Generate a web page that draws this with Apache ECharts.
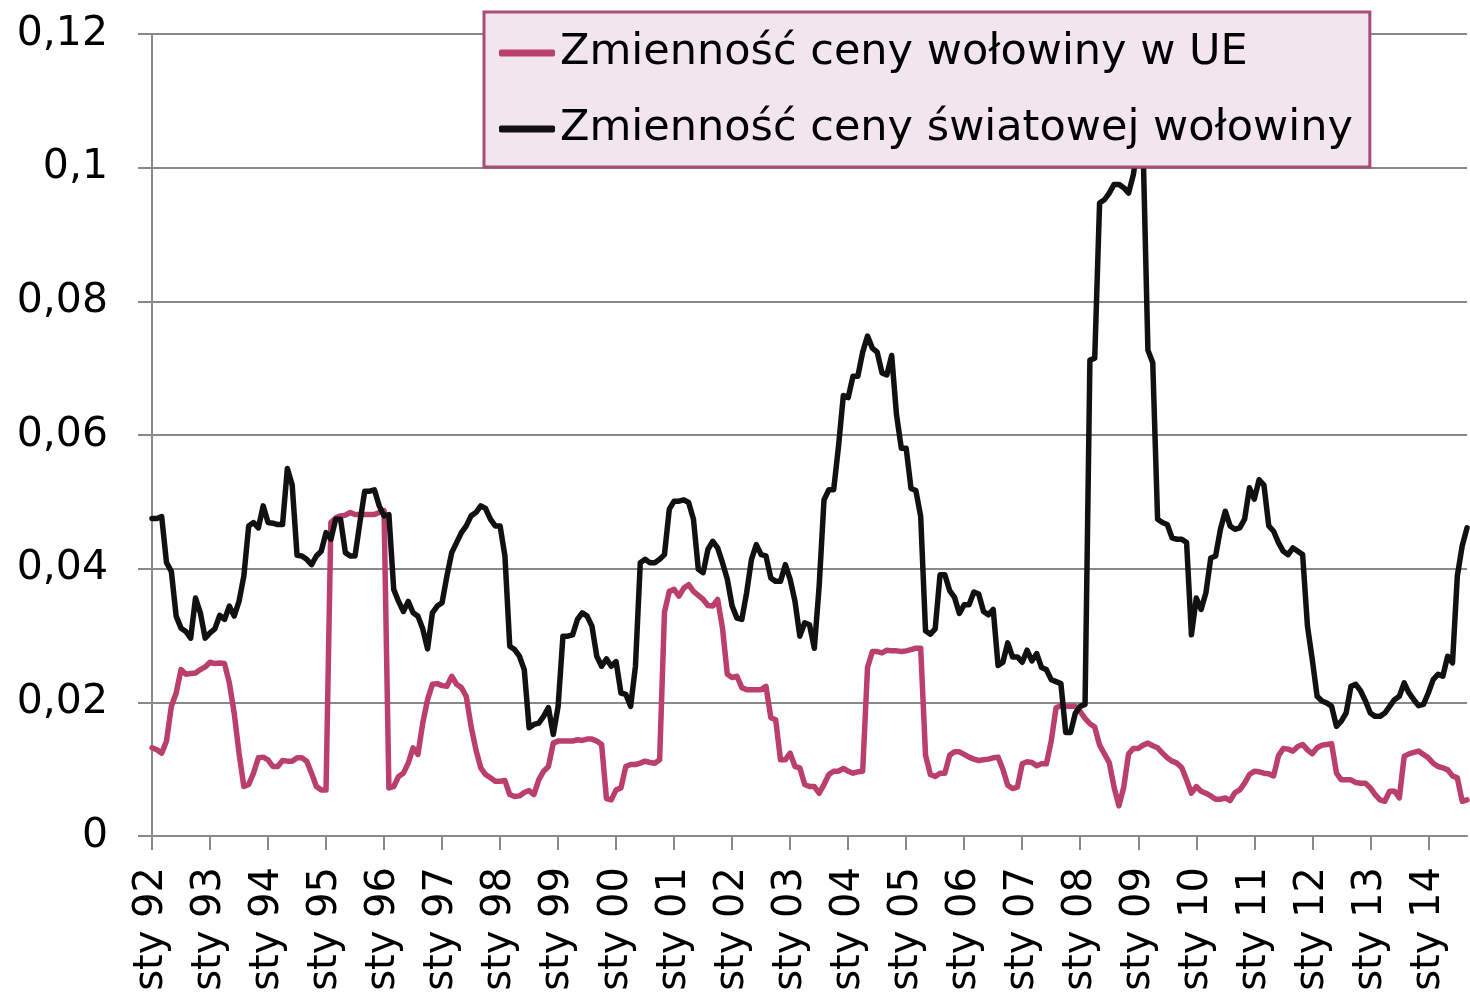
<!DOCTYPE html>
<html><head><meta charset="utf-8">
<script src="https://cdn.jsdelivr.net/npm/echarts@6/dist/echarts.min.js"></script>
<style>html,body{margin:0;padding:0;background:#fff}#c{width:1470px;height:994px}</style>
</head><body><div id="c"></div>
<script>
const monthNames = ['sty','lut','mar','kwi','maj','cze','lip','sie','wrz','paź','lis','gru'];
const years = ['92','93','94','95','96','97','98','99','00','01','02','03','04','05','06','07','08','09','10','11','12','13','14'];
const seriesNames = ['Zmienność ceny wołowiny w UE','Zmienność ceny światowej wołowiny'];

const euVol = [
0.0132,0.0129,0.0124,0.0142,0.0194,0.0214,0.0249,0.0242,0.0243,0.0244,
0.0249,0.0253,0.026,0.0258,0.0259,0.0258,0.0229,0.0184,0.0124,0.0074,
0.0077,0.0094,0.0117,0.0118,0.0114,0.0104,0.0104,0.0113,0.0112,0.0112,
0.0117,0.0117,0.0112,0.0094,0.0074,0.0069,0.0069,0.0469,0.0476,0.0479,
0.048,0.0484,0.0481,0.0481,0.0481,0.0481,0.0481,0.0484,0.0487,0.0072,
0.0074,0.0089,0.0094,0.0109,0.0132,0.0122,0.0169,0.0204,0.0227,0.0228,
0.0225,0.0224,0.0239,0.0227,0.0222,0.0209,0.0164,0.0129,0.0102,0.0092,
0.0087,0.0082,0.0082,0.0083,0.0062,0.0059,0.006,0.0065,0.0068,0.0062,
0.0084,0.0097,0.0104,0.0139,0.0142,0.0142,0.0142,0.0142,0.0144,0.0143,
0.0145,0.0145,0.0142,0.0137,0.0056,0.0054,0.0069,0.0072,0.0104,0.0107,
0.0107,0.0109,0.0112,0.011,0.0109,0.0114,0.0335,0.0366,0.0369,0.0359,
0.0371,0.0376,0.0366,0.036,0.0354,0.0345,0.0344,0.0354,0.0311,0.0242,
0.0237,0.0239,0.0222,0.0219,0.0219,0.0219,0.0219,0.0224,0.0177,0.0174,
0.0114,0.0114,0.0124,0.0104,0.0102,0.0077,0.0074,0.0074,0.0064,0.0077,
0.0092,0.0097,0.0097,0.0101,0.0097,0.0094,0.0096,0.0097,0.0252,0.0276,
0.0276,0.0274,0.0278,0.0277,0.0277,0.0276,0.0277,0.0279,0.0281,0.0281,
0.0121,0.0092,0.0089,0.0094,0.0094,0.0121,0.0126,0.0126,0.0122,0.0118,
0.0115,0.0113,0.0114,0.0115,0.0117,0.0118,0.01,0.0076,0.0071,0.0073,
0.0108,0.0111,0.011,0.0105,0.0108,0.0108,0.0142,0.0192,0.0195,0.0194,
0.0194,0.0194,0.0186,0.0176,0.0168,0.0163,0.0136,0.0123,0.011,0.0073,
0.0045,0.0073,0.0123,0.0131,0.0131,0.0136,0.0139,0.0135,0.0132,0.0124,
0.0117,0.0112,0.0109,0.0102,0.0084,0.0064,0.0074,0.0067,0.0064,0.006,
0.0055,0.0055,0.0057,0.0053,0.0065,0.0069,0.0079,0.0092,0.0097,0.0096,
0.0094,0.0093,0.009,0.012,0.0131,0.013,0.0127,0.0134,0.0137,0.0129,
0.0123,0.0132,0.0136,0.0137,0.0138,0.0094,0.0084,0.0084,0.0084,0.008,
0.0079,0.0079,0.0072,0.0062,0.0054,0.0052,0.0067,0.0067,0.0057,0.0119,
0.0123,0.0125,0.0127,0.0122,0.0117,0.0109,0.0104,0.0102,0.0099,0.009,
0.0087,0.0052,0.0054
];

const worldVol = [
0.0475,0.0475,0.0478,0.0409,0.0396,0.0329,0.0311,0.0306,0.0296,0.0356,
0.0334,0.0296,0.0304,0.031,0.033,0.0324,0.0344,0.0329,0.0351,0.0389,
0.0464,0.0469,0.0461,0.0494,0.0469,0.0468,0.0466,0.0466,0.055,0.0525,
0.042,0.0419,0.0414,0.0406,0.0419,0.0426,0.0454,0.0444,0.0474,0.0474,
0.0424,0.0419,0.0419,0.0469,0.0516,0.0516,0.0518,0.0494,0.0479,0.0481,
0.0369,0.0351,0.0336,0.0351,0.0334,0.0329,0.031,0.028,0.0334,0.0344,
0.0349,0.0389,0.0424,0.0439,0.0454,0.0464,0.0479,0.0484,0.0494,0.049,
0.0474,0.0464,0.0464,0.0419,0.0284,0.0279,0.0269,0.0249,0.0162,0.0167,
0.0169,0.0179,0.0192,0.0152,0.0194,0.0299,0.0299,0.0301,0.0324,0.0334,
0.0329,0.0314,0.0269,0.0254,0.0265,0.0254,0.0261,0.0214,0.0212,0.0194,
0.0254,0.0409,0.0414,0.0409,0.0409,0.0414,0.0421,0.0489,0.0501,0.0501,
0.0503,0.0499,0.0474,0.0399,0.0394,0.0429,0.0441,0.0431,0.0409,0.0384,
0.0344,0.0326,0.0324,0.0364,0.0414,0.0436,0.0421,0.0419,0.0386,0.0381,
0.0381,0.0406,0.0384,0.0351,0.0299,0.0319,0.0316,0.0281,0.0374,0.0503,
0.0518,0.0518,0.0583,0.0659,0.0656,0.0688,0.0688,0.0724,0.0748,0.073,
0.0724,0.0693,0.069,0.0719,0.063,0.058,0.058,0.052,0.0517,0.0478,
0.0307,0.0302,0.031,0.0391,0.0391,0.0367,0.0357,0.0333,0.0346,0.0346,
0.0365,0.0362,0.0336,0.0331,0.0339,0.0255,0.026,0.0289,0.0268,0.0268,
0.026,0.0278,0.0262,0.0273,0.0252,0.0249,0.0234,0.0231,0.0228,0.0155,
0.0155,0.0184,0.0194,0.0197,0.0712,0.0715,0.0947,0.0952,0.0962,0.0975,
0.0975,0.097,0.0962,0.099,0.104,0.103,0.0727,0.0708,0.0474,0.0469,
0.0466,0.0446,0.0444,0.0444,0.0439,0.0301,0.0356,0.0339,0.0364,0.0416,
0.0419,0.0459,0.0486,0.0464,0.0459,0.0461,0.0474,0.0521,0.0504,0.0533,
0.0525,0.0464,0.0456,0.0439,0.0426,0.0421,0.0431,0.0426,0.0421,0.0314,
0.0264,0.0209,0.0202,0.0199,0.0194,0.0164,0.0172,0.0184,0.0224,0.0227,
0.0217,0.0202,0.0184,0.0179,0.0179,0.0184,0.0194,0.0204,0.0209,0.0229,
0.0214,0.0204,0.0195,0.0197,0.0214,0.0234,0.0242,0.0239,0.0269,0.0259,
0.0389,0.0434,0.0461
];

const categories = [];
for (let i = 0; i < worldVol.length; i++) {
  categories.push(monthNames[i % 12] + ' ' + years[Math.floor(i / 12)]);
}

const FONT = 'DejaVu Sans';
const gridGray = '#898989';
const pink = '#bb3f6c';
const black = '#111111';
const chart = echarts.init(document.getElementById('c'), null, {renderer: 'canvas'});
chart.setOption({
  animation: false,
  backgroundColor: '#ffffff',
  grid: {left: 152, right: 3, top: 34, bottom: 158, containLabel: false},
  legend: {
    orient: 'vertical',
    left: 484, top: 12,
    padding: [16, 17, 13, 15],
    backgroundColor: '#f3e5ed',
    borderColor: '#a84d79',
    borderWidth: 3,
    itemWidth: 56, itemHeight: 7,
    itemGap: 26,
    icon: 'roundRect',
    textStyle: {fontFamily: FONT, fontSize: 43, color: '#000', lineHeight: 50},
    data: seriesNames
  },
  xAxis: {
    type: 'category',
    data: categories,
    boundaryGap: false,
    axisLine: {lineStyle: {color: gridGray, width: 2}},
    axisTick: {show: true, interval: 11, length: 14, lineStyle: {color: gridGray, width: 2}},
    axisLabel: {interval: 11, rotate: 90, margin: 31, fontFamily: FONT, fontSize: 40, color: '#000',
      padding: [8, 0, 0, 0]},
    splitLine: {show: false}
  },
  yAxis: {
    type: 'value',
    min: 0, max: 0.12, interval: 0.02,
    axisLine: {show: true, lineStyle: {color: gridGray, width: 2}},
    axisTick: {show: true, length: 14, lineStyle: {color: gridGray, width: 2}},
    axisLabel: {margin: 44, fontFamily: FONT, fontSize: 41, color: '#000',
      formatter: v => String(+v.toFixed(2)).replace('.', ',')},
    splitLine: {show: true, lineStyle: {color: gridGray, width: 2}}
  },
  series: [
    {name: seriesNames[0], type: 'line', data: euVol, symbol: 'none', color: pink,
     lineStyle: {width: 5.5, color: pink, cap: 'round', join: 'round'}, z: 2},
    {name: seriesNames[1], type: 'line', data: worldVol, symbol: 'none', color: black,
     lineStyle: {width: 5.5, color: black, cap: 'round', join: 'round'}, z: 3}
  ]
});
</script></body></html>
